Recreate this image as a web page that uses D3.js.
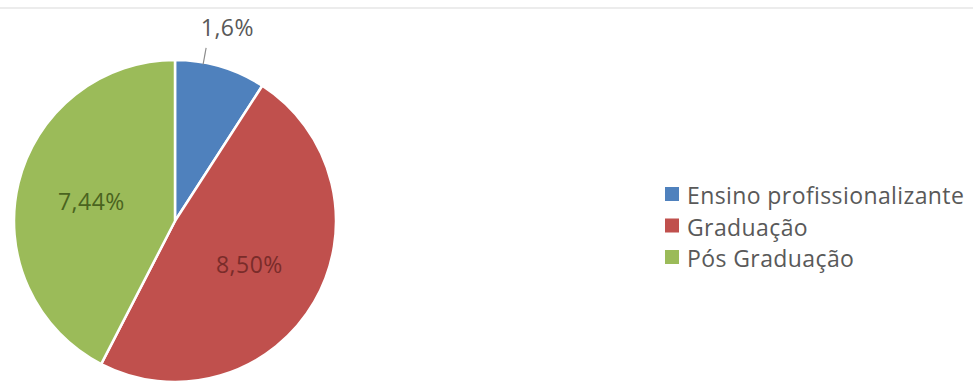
<!DOCTYPE html>
<html lang="pt">
<head>
<meta charset="utf-8">
<title>Formação dos docentes</title>
<script src="https://cdn.jsdelivr.net/npm/d3@7"></script>
<style>
  html, body { margin: 0; padding: 0; background: #ffffff; }
  svg { display: block; }
</style>
</head>
<body>
<svg id="chart" width="973" height="384"></svg>
<script>
// Formação dos docentes
const categories = ["Ensino profissionalizante", "Graduação", "Pós Graduação"];
const values = [1.6, 8.50, 7.44];
const valueDecimals = [1, 2, 2];
const colors = ["#4f81bd", "#c0504d", "#9bbb59"];
const labelColors = ["#595959", "#7a2c2a", "#4a6420"];

const W = 973, H = 384;
const svg = d3.select("#chart");

// Thin frame edge along the top
svg.append("line")
  .attr("x1", 0).attr("x2", W)
  .attr("y1", 8).attr("y2", 8)
  .attr("stroke", "#ececec").attr("stroke-width", 2);

const cx = 175, cy = 221, r = 161;
const g = svg.append("g").attr("transform", `translate(${cx},${cy})`);

const data = categories.map((c, i) => ({ name: c, value: values[i], i }));
const pie = d3.pie().sort(null).value(d => d.value);
const arcs = pie(data);

const arc = d3.arc().innerRadius(0).outerRadius(r);
const labelArc = d3.arc().innerRadius(86).outerRadius(86);

g.selectAll("path.slice")
  .data(arcs)
  .join("path")
  .attr("class", "slice")
  .attr("d", arc)
  .attr("fill", d => colors[d.data.i])
  .attr("stroke", "#ffffff")
  .attr("stroke-width", 2.5)
  .attr("stroke-linejoin", "round");

const fmt = d => d3.format(`.${valueDecimals[d.data.i]}f`)(d.data.value).replace(".", ",") + "%";
const mid = d => (d.startAngle + d.endAngle) / 2;
const polar = (a, rr) => [Math.sin(a) * rr, -Math.cos(a) * rr];

// small slice: label outside with a leader line
const outside = arcs.filter(d => d.data.i === 0);
const inside = arcs.filter(d => d.data.i !== 0);

g.selectAll("line.leader")
  .data(outside)
  .join("line")
  .attr("class", "leader")
  .attr("x1", d => polar(mid(d) * 0.62, r - 2)[0])
  .attr("y1", d => polar(mid(d) * 0.62, r - 2)[1])
  .attr("x2", d => polar(mid(d) * 0.62, r + 15)[0])
  .attr("y2", d => polar(mid(d) * 0.62, r + 15)[1])
  .attr("stroke", "#8c8c8c")
  .attr("stroke-width", 1.2);

const labelFont = { family: "'Open Sans', sans-serif", size: 23 };

g.selectAll("text.outLabel")
  .data(outside)
  .join("text")
  .attr("class", "outLabel")
  .attr("x", d => polar(mid(d) * 0.92, r + 40)[0])
  .attr("y", d => polar(mid(d) * 0.92, r + 40)[1])
  .attr("text-anchor", "middle")
  .attr("dominant-baseline", "central")
  .attr("font-family", labelFont.family)
  .attr("font-size", labelFont.size)
  .attr("letter-spacing", 0.5)
  .attr("fill", d => labelColors[d.data.i])
  .text(fmt);

g.selectAll("text.inLabel")
  .data(inside)
  .join("text")
  .attr("class", "inLabel")
  .attr("x", d => labelArc.centroid(d)[0])
  .attr("y", d => labelArc.centroid(d)[1])
  .attr("text-anchor", "middle")
  .attr("dominant-baseline", "central")
  .attr("font-family", labelFont.family)
  .attr("font-size", labelFont.size)
  .attr("letter-spacing", 0.5)
  .attr("fill", d => labelColors[d.data.i])
  .text(fmt);

// Legend
const legend = svg.append("g").attr("transform", "translate(665,194)");
const rowH = 31.5;
const item = legend.selectAll("g.item")
  .data(data)
  .join("g")
  .attr("class", "item")
  .attr("transform", d => `translate(0,${d.i * rowH})`);

item.append("rect")
  .attr("x", 0).attr("y", -7)
  .attr("width", 14).attr("height", 14)
  .attr("fill", d => colors[d.i]);

item.append("text")
  .attr("x", 22).attr("y", 1)
  .attr("dominant-baseline", "central")
  .attr("font-family", "'Open Sans', sans-serif")
  .attr("font-size", 23)
  .attr("letter-spacing", 0.4)
  .attr("fill", "#595959")
  .text(d => d.name);
</script>
</body>
</html>
